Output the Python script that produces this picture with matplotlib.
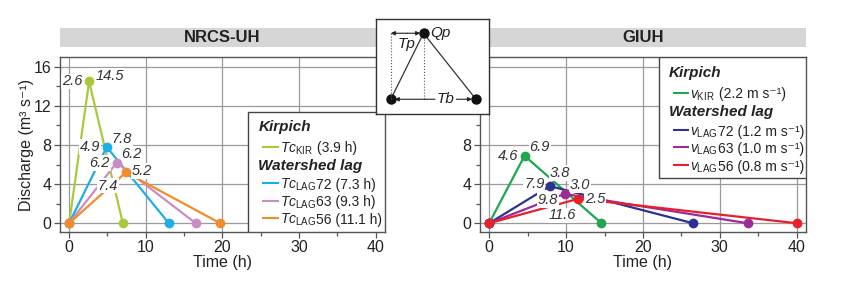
import numpy as np
import matplotlib
matplotlib.use("Agg")
import matplotlib.pyplot as plt
from matplotlib.patches import Rectangle
from matplotlib.ticker import MultipleLocator

plt.rcParams['font.family'] = ['Liberation Sans', 'DejaVu Sans']
plt.rcParams['mathtext.fontset'] = 'custom'
plt.rcParams['mathtext.rm'] = 'Liberation Sans'
plt.rcParams['mathtext.it'] = 'Liberation Sans:italic'
plt.rcParams['mathtext.bf'] = 'Liberation Sans:bold'

# ---- data: triangular unit hydrographs (start, peak, end) ----
nrcs_tp = [2.6, 4.9, 6.2, 7.4]        # time to peak (h)
nrcs_qp = [14.5, 7.8, 6.2, 5.2]       # peak discharge (m3/s)
nrcs_tb = [7.0, 13.0, 16.5, 19.7]     # base time (h)
nrcs_colors = ["#a9c93d", "#1eaee6", "#c98cc4", "#f28c2b"]
nrcs_sym = [r"$Tc_{\rm KIR}$", r"$Tc_{\rm LAG}$", r"$Tc_{\rm LAG}$", r"$Tc_{\rm LAG}$"]
nrcs_rest = [" (3.9 h)", "72 (7.3 h)", "63 (9.3 h)", "56 (11.1 h)"]

giuh_tp = [4.6, 7.9, 9.8, 11.6]
giuh_qp = [6.9, 3.8, 3.0, 2.5]
giuh_tb = [14.6, 26.5, 33.6, 40.0]
giuh_colors = ["#1fa64f", "#2e3192", "#9c2a9a", "#e8202a"]
giuh_sym = [r"$v_{\rm KIR}$", r"$v_{\rm LAG}$", r"$v_{\rm LAG}$", r"$v_{\rm LAG}$"]
giuh_rest = [" (2.2 m s⁻¹)", "72 (1.2 m s⁻¹)", "63 (1.0 m s⁻¹)", "56 (0.8 m s⁻¹)"]

# schematic triangle of the inset
schema_t = [0, 1, 2.6]
schema_q = [0, 1, 0]

# label offsets in points: (tp label, qp label)
nrcs_off = [((-5, 0), (5, 4)), ((-5, 0), (3.5, 6)),
            ((-5, -0.5), (3, 6.5)), ((-5.5, -9.5), (4, 1))]
giuh_off = [((-4.5, 0), (3.5, 6.5)), ((-4, 1.7), (0, 9.5)),
            ((-4.5, -4.5), (3.5, 6.5)), ((-1.5, -12), (4.5, 0))]

fig = plt.figure(figsize=(8.41, 2.88), dpi=100)
ax1 = fig.add_axes([0.0713, 0.1944, 0.3865, 0.6076])
ax2 = fig.add_axes([0.5707, 0.1944, 0.3876, 0.6076])


def draw_panel(ax, tp, qp, tb, colors, offs, title):
    for i in range(len(tp)):
        t = [0, tp[i], tb[i]]
        q = [0, qp[i], 0]
        ax.plot(t, q, color=colors[i], lw=1.6, zorder=3, solid_capstyle='butt')
        ax.plot(t, q, ls='none', marker='o', ms=6, color=colors[i], zorder=6)
        bb = dict(boxstyle='square,pad=0.06', fc='white', ec='none')
        ax.annotate(f"{tp[i]:.1f}", (tp[i], qp[i]), xytext=offs[i][0],
                    textcoords='offset points', ha='right', va='center',
                    fontsize=10.5, style='italic', color='#333333', bbox=bb, zorder=5)
        ax.annotate(f"{qp[i]:.1f}", (tp[i], qp[i]), xytext=offs[i][1],
                    textcoords='offset points', ha='left', va='center',
                    fontsize=10.5, style='italic', color='#333333', bbox=bb, zorder=5)
    ax.set_xlim(-1.2, 41.2)
    ax.set_ylim(-0.9, 17.0)
    ax.xaxis.set_major_locator(MultipleLocator(10))
    ax.xaxis.set_minor_locator(MultipleLocator(5))
    ax.yaxis.set_major_locator(MultipleLocator(4))
    ax.yaxis.set_minor_locator(MultipleLocator(2))
    ax.grid(True, which='major', color='#9a9a9a', lw=0.9, zorder=0)
    ax.tick_params(which='major', direction='out', length=4, width=0.9,
                   color='#555555', labelsize=11.5, labelcolor='#222222', pad=2)
    ax.tick_params(which='minor', direction='out', length=3, width=0.9, color='#555555')
    for s in ax.spines.values():
        s.set_color('#555555')
        s.set_linewidth(1.0)
    ax.set_xlabel("Time (h)", fontsize=11.5, color='#222222', labelpad=0)
    # grey title band
    ax.add_patch(Rectangle((0, 1.057), 1, 0.109, transform=ax.transAxes,
                           fc='#d6d6d6', ec='none', clip_on=False, zorder=1))
    ax.text(0.5, 1.111, title, transform=ax.transAxes, ha='center', va='center',
            fontsize=12, fontweight='bold', color='#222222')


def draw_legend(ax, box, rows, colors):
    # box: (x0, y0, w, h) in axes fraction; rows: list of (header or (sym, rest), y)
    ax.add_patch(Rectangle(box[:2], box[2], box[3], transform=ax.transAxes,
                           fc='white', ec='#444444', lw=1.0, zorder=8))
    x0 = box[0]
    ci = 0
    for text, y in rows:
        if isinstance(text, str):
            ax.text(x0 + 0.03, y, text, transform=ax.transAxes, ha='left', va='center',
                    fontsize=11, fontweight='bold', style='italic', color='#222222', zorder=9)
        else:
            ax.plot([x0 + 0.045, x0 + 0.09], [y + 0.033, y + 0.033], transform=ax.transAxes,
                    color=colors[ci], lw=1.5, zorder=9, clip_on=False)
            t1 = ax.text(x0 + 0.096, y, text[0], transform=ax.transAxes, ha='left',
                         va='baseline', fontsize=10, color='#222222', zorder=9)
            ax.annotate(text[1], xy=(1.0, y), xycoords=(t1, ax.transAxes), ha='left',
                        va='baseline', fontsize=10, color='#222222', zorder=9)
            ci += 1


draw_panel(ax1, nrcs_tp, nrcs_qp, nrcs_tb, nrcs_colors, nrcs_off, "NRCS-UH")
draw_panel(ax2, giuh_tp, giuh_qp, giuh_tb, giuh_colors, giuh_off, "GIUH")
ax1.set_ylabel("Discharge (m³ s⁻¹)", fontsize=11.5, color='#222222', labelpad=0)

nrcs_items = list(zip(nrcs_sym, nrcs_rest))
draw_legend(ax1, (0.58, 0.0, 0.42, 0.686),
            [("Kirpich", 0.60), (nrcs_items[0], 0.455),
             ("Watershed lag", 0.377), (nrcs_items[1], 0.246),
             (nrcs_items[2], 0.147), (nrcs_items[3], 0.046)],
            nrcs_colors)
giuh_items = list(zip(giuh_sym, giuh_rest))
draw_legend(ax2, (0.549, 0.309, 0.451, 0.691),
            [("Kirpich", 0.91), (giuh_items[0], 0.764),
             ("Watershed lag", 0.687), (giuh_items[1], 0.551),
             (giuh_items[2], 0.452), (giuh_items[3], 0.351)],
            giuh_colors)

# ---- inset schematic ----
axi = fig.add_axes([0.4471, 0.6042, 0.1344, 0.3299], zorder=10)
axi.set_facecolor('white')
axi.set_xlim(-0.45, 3.0)
axi.set_ylim(-0.223, 1.216)
axi.set_xticks([])
axi.set_yticks([])
for s in axi.spines.values():
    s.set_color('#333333')
    s.set_linewidth(1.0)
axi.plot(schema_t, schema_q, color='#333333', lw=0.9)
axi.plot(schema_t, schema_q, ls='none', marker='o', ms=6.5, color='#111111')
axi.plot([schema_t[0], schema_t[0]], [schema_q[0], schema_q[1]], ls=':', color='#555555', lw=0.8)
axi.plot([schema_t[1], schema_t[1]], [schema_q[0], schema_q[1] - 0.05], ls=':', color='#555555', lw=0.8)
arr = dict(arrowstyle='-|>', color='#222222', lw=0.8, mutation_scale=6, shrinkA=0, shrinkB=0)
axi.annotate("", xy=(schema_t[0], schema_q[1]), xytext=(0.5, schema_q[1]), arrowprops=arr)
axi.annotate("", xy=(schema_t[1] - 0.1, schema_q[1]), xytext=(0.5, schema_q[1]), arrowprops=arr)
axi.annotate("", xy=(schema_t[0] + 0.12, 0), xytext=(1.35, 0), arrowprops=arr)
axi.annotate("", xy=(schema_t[2] - 0.12, 0), xytext=(2.0, 0), arrowprops=arr)
axi.text(0.48, 0.84, "Tp", style='italic', fontsize=11, ha='center', va='center', color='#222222')
axi.text(1.22, 1.0, "Qp", style='italic', fontsize=11, ha='left', va='center', color='#222222')
axi.text(1.67, 0.0, "Tb", style='italic', fontsize=11, ha='center', va='center', color='#222222')

fig.savefig("out.png", dpi=100)
